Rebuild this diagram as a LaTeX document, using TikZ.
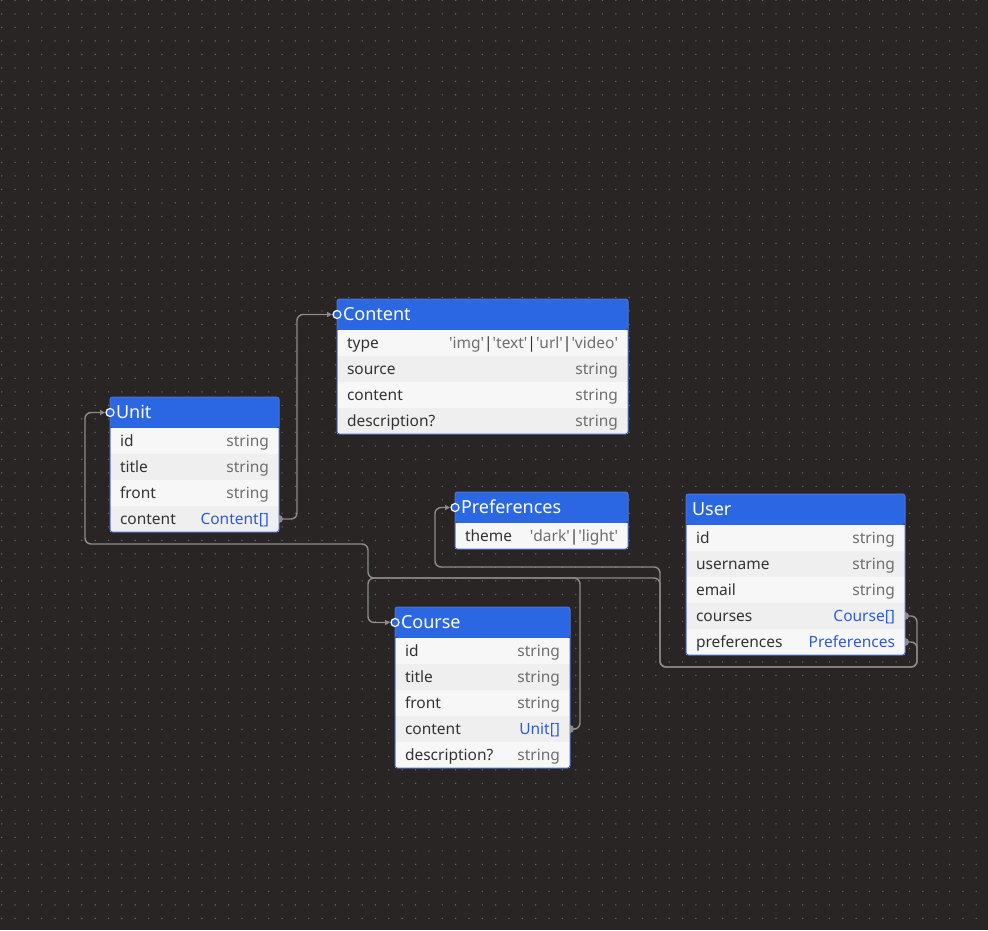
\documentclass[tikz,border=0pt]{standalone}
\usepackage{fontspec}
\setmainfont{Noto Sans}
\usetikzlibrary{arrows.meta}

\definecolor{canvas}{HTML}{292525}
\definecolor{dotc}{HTML}{6A6666}
\definecolor{headblue}{HTML}{2C67E3}
\definecolor{framec}{HTML}{4E72D2}
\definecolor{rowa}{HTML}{F7F7F7}
\definecolor{rowb}{HTML}{EFEFEF}
\definecolor{fname}{HTML}{333333}
\definecolor{ftype}{HTML}{6E6E6E}
\definecolor{fref}{HTML}{2D5BD8}
\definecolor{linkc}{HTML}{8C8C8C}

\newcommand{\typ}[1]{{\color{ftype}#1}}
\newcommand{\lnk}[1]{{\color{fref}#1}}
\newcommand{\sqt}{\textquotesingle}
\newcommand{\vbar}{{\color{fname}|}}

\begin{document}
\begin{tikzpicture}[x=1pt,y=-1pt]
\tikzstyle{thead}=[rectangle,anchor=north west,fill=headblue,text=white,rounded corners=2.5pt,minimum height=31pt,text height=14pt,text depth=3pt,inner xsep=6pt,inner ysep=0pt,outer sep=0pt,font=\fontsize{18}{20}\selectfont]
\tikzstyle{trow}=[rectangle,anchor=north west,fill=rowa,text=fname,minimum height=26pt,text height=13pt,text depth=2pt,inner xsep=10pt,inner ysep=0pt,outer sep=0pt,font=\fontsize{15.5}{18}\selectfont]
\tikzstyle{talt}=[trow,fill=rowb]
\tikzstyle{frame}=[draw=framec,line width=1pt,rounded corners=2.5pt]
\tikzstyle{link}=[draw=linkc,line width=1.4pt,rounded corners=6pt,shorten >=5pt,-{Triangle[length=5pt,width=5pt]}]
\tikzstyle{port}=[fill=headblue,draw=white,line width=1.2pt]
\tikzstyle{handle}=[fill=linkc]

% canvas
\useasboundingbox (0,0) rectangle (988,930);
\fill[canvas] (0,0) rectangle (988,930);
\foreach \i in {0,...,73}
  \foreach \j in {0,...,68}
    \fill[dotc] (1.7+13.35*\i,0.4+13.5*\j) circle (0.8pt);

% Content
\node[thead,text width=279pt] (content) at (337,299) {Content};
\node[trow,text width=271pt] (content-type) at (content.south west) {type\hfill\typ{\sqt img\sqt\vbar\sqt text\sqt\vbar\sqt url\sqt\vbar\sqt video\sqt}};
\node[talt,text width=271pt] (content-source) at (content-type.south west) {source\hfill\typ{string}};
\node[trow,text width=271pt] (content-content) at (content-source.south west) {content\hfill\typ{string}};
\node[talt,text width=271pt] (content-description) at (content-content.south west) {description?\hfill\typ{string}};
\draw[frame] (content.north west) rectangle (content-description.south east);

% Unit
\node[thead,text width=157pt] (unit) at (110,397) {Unit};
\node[trow,text width=149pt] (unit-id) at (unit.south west) {id\hfill\typ{string}};
\node[talt,text width=149pt] (unit-title) at (unit-id.south west) {title\hfill\typ{string}};
\node[trow,text width=149pt] (unit-front) at (unit-title.south west) {front\hfill\typ{string}};
\node[talt,text width=149pt] (unit-content) at (unit-front.south west) {content\hfill\lnk{Content[]}};
\draw[frame] (unit.north west) rectangle (unit-content.south east);

% Preferences
\node[thead,text width=161pt] (preferences) at (455,492) {Preferences};
\node[trow,text width=153pt] (preferences-theme) at (preferences.south west) {theme\hfill\typ{\sqt dark\sqt\vbar\sqt light\sqt}};
\draw[frame] (preferences.north west) rectangle (preferences-theme.south east);

% User
\node[thead,text width=207pt] (user) at (686,494) {User};
\node[trow,text width=199pt] (user-id) at (user.south west) {id\hfill\typ{string}};
\node[talt,text width=199pt] (user-username) at (user-id.south west) {username\hfill\typ{string}};
\node[trow,text width=199pt] (user-email) at (user-username.south west) {email\hfill\typ{string}};
\node[talt,text width=199pt] (user-courses) at (user-email.south west) {courses\hfill\lnk{Course[]}};
\node[trow,text width=199pt] (user-preferences) at (user-courses.south west) {preferences\hfill\lnk{Preferences}};
\draw[frame] (user.north west) rectangle (user-preferences.south east);

% Course
\node[thead,text width=163pt] (course) at (395,607) {Course};
\node[trow,text width=155pt] (course-id) at (course.south west) {id\hfill\typ{string}};
\node[talt,text width=155pt] (course-title) at (course-id.south west) {title\hfill\typ{string}};
\node[trow,text width=155pt] (course-front) at (course-title.south west) {front\hfill\typ{string}};
\node[talt,text width=155pt] (course-content) at (course-front.south west) {content\hfill\lnk{Unit[]}};
\node[trow,text width=155pt] (course-description) at (course-content.south west) {description?\hfill\typ{string}};
\draw[frame] (course.north west) rectangle (course-description.south east);

% relations
\draw[link] (unit-content.east) -- ++(18,0) |- (content.west);
\draw[link] (course-content.east) -- ++(10,0) |- (368,578) |- (85,544) |- (unit.west);
\draw[link] (user-courses.east) -- ++(12,0) |- (660,667) |- (368,578) |- (course.west);
\draw[link] (user-preferences.east) -- ++(12,0) |- (660,667) |- (435,567) |- (preferences.west);

% handles
\foreach \src in {unit-content,course-content,user-courses,user-preferences}
  \fill[handle] ([yshift=4pt]\src.east) arc[start angle=90,end angle=-90,radius=4pt] -- cycle;
\foreach \dst in {content,unit,preferences,course}
  \draw[port] (\dst.west) circle (4pt);
\end{tikzpicture}
\end{document}
